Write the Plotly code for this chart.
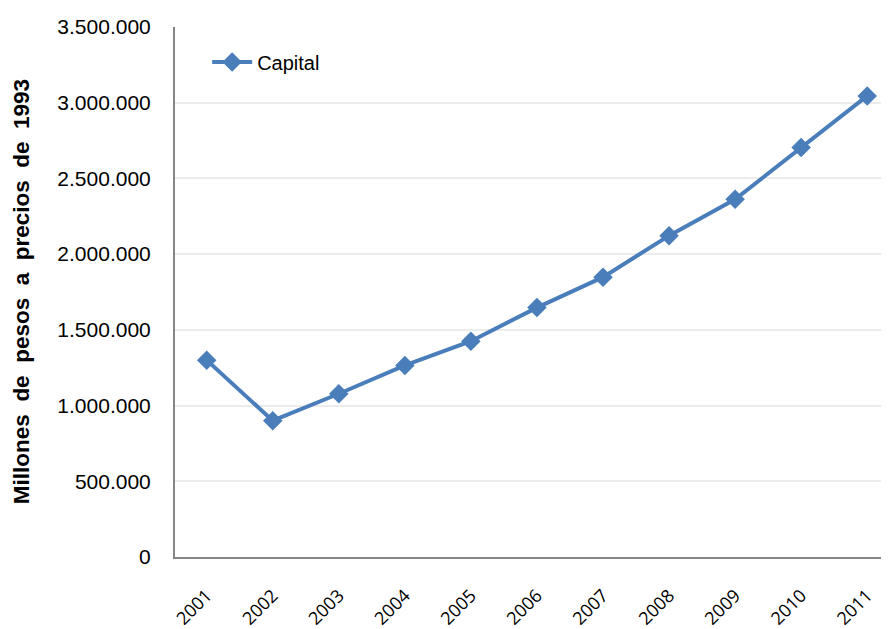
import plotly.graph_objects as go

years = ["2001", "2002", "2003", "2004", "2005", "2006", "2007", "2008", "2009", "2010", "2011"]
capital = [1300000, 900000, 1078000, 1265000, 1425000, 1647000, 1848000, 2122000, 2362000, 2705000, 3045000]
y_ticks = [0, 500000, 1000000, 1500000, 2000000, 2500000, 3000000, 3500000]
series_name = "Capital"
y_title = "Millones\u00a0\u00a0de\u00a0\u00a0pesos\u00a0\u00a0a\u00a0\u00a0precios\u00a0\u00a0de\u00a0\u00a01993"

fig = go.Figure()
fig.add_trace(go.Scatter(
    x=years, y=capital, name=series_name, mode="lines+markers",
    line=dict(color="#4a7ebb", width=4),
    marker=dict(symbol="diamond", size=15, color="#4a7ebb"),
))

fig.update_layout(
    width=881, height=621,
    margin=dict(l=167, r=0, t=19, b=72, autoexpand=False),
    paper_bgcolor="white", plot_bgcolor="white",
    separators=",.",
    showlegend=True,
    legend=dict(x=0.045, y=0.934, xanchor="left", yanchor="middle",
                font=dict(family="Liberation Sans", size=20, color="#000"),
                bgcolor="rgba(0,0,0,0)", itemwidth=40),
    annotations=[dict(text="<b>" + y_title + "</b>", textangle=-90, xref="paper", yref="paper",
                      x=-0.2155, y=0.5, xanchor="center", yanchor="middle", showarrow=False,
                      font=dict(family="Liberation Sans", size=22.5, color="#000"))],
)

fig.update_xaxes(
    type="category", range=[-0.48, 10.33], automargin=False,
    showline=True, linecolor="#868686", linewidth=2,
    showgrid=False, ticks="", tickangle=-45,
    tickfont=dict(family="Open Sans", size=18, color="#000"),
    ticklabelstandoff=19,
)
fig.update_yaxes(
    range=[0, 3500000], tickvals=y_ticks, tickformat=",d", automargin=False,
    showline=True, linecolor="#868686", linewidth=2,
    showgrid=True, gridcolor="#ececec", gridwidth=2,
    ticks="", zeroline=False,
    tickfont=dict(family="Liberation Sans", size=21, color="#000"),
    ticklabelstandoff=18,
)

fig.write_html("out.html")
